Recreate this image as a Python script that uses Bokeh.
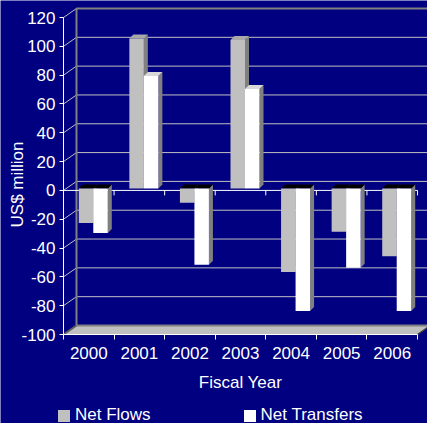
import numpy as np
from bokeh.plotting import figure
from bokeh.models import Range1d, FixedTicker, Legend, LegendItem, Label
from bokeh.embed import file_html
from bokeh.resources import INLINE

# ---- data ----
years = ["2000", "2001", "2002", "2003", "2004", "2005", "2006"]
net_flows = [-24, 104, -10, 103, -58, -30, -47]
net_transfers = [-31, 78, -53, 69, -85, -55, -85]
y_ticks = [-100, -80, -60, -40, -20, 0, 20, 40, 60, 80, 100, 120]
series_names = ["Net Flows", "Net Transfers"]
x_title = "Fiscal Year"
y_title = "US$ million"

# ---- style / geometry (pixels) ----
FONT = "Liberation Sans"
FS = "17px"
BG = "#000080"
W, H = 427, 423
AX_LEFT = 63        # front value axis position
AX_BOTTOM = 334     # front category axis position (from top)
AX_TOP = 17         # top tick position (from top)
N = len(years)
PXX = 354.0 / N
Y_MIN, Y_MAX = y_ticks[0], y_ticks[-1]
PXY = (AX_BOTTOM - AX_TOP) / (Y_MAX - Y_MIN)
X_START = -AX_LEFT / PXX
X_END = X_START + W / PXX
Y_START = Y_MIN - (H - AX_BOTTOM) / PXY
Y_END = Y_MAX + AX_TOP / PXY

DX, DY = 13 / PXX, 9 / PXY          # wall depth
BX0, BY0 = 4.5 / PXX, 2 / PXY       # bar front-plane offset
BW = 14.5 / PXX                     # bar width
BDX, BDY = 4 / PXX, 4 / PXY         # bar depth

p = figure(width=W, height=H, x_range=Range1d(X_START, X_END), y_range=Range1d(Y_START, Y_END),
           output_backend="svg", toolbar_location=None,
           min_border_left=0, min_border_right=0, min_border_top=0, min_border_bottom=0,
           background_fill_color=BG, border_fill_color=BG, outline_line_color=None)
p.grid.visible = False

# back wall gridlines
inner = y_ticks[1:-1]
p.multi_line([[DX, X_END + 1] for _ in inner], [[t + DY, t + DY] for t in inner],
             line_color="#c0c0c0", line_width=1)
# side wall diagonals
p.multi_line([[0, DX] for _ in y_ticks[1:]], [[t, t + DY] for t in y_ticks[1:]],
             line_color="#c0c0c0", line_width=1)
# back wall border
p.line([DX, DX, X_END + 1], [Y_MIN + DY, Y_MAX + DY, Y_MAX + DY], line_color="#808080", line_width=2)
# floor
p.patch([0, N, N + DX, DX], [Y_MIN, Y_MIN, Y_MIN + DY, Y_MIN + DY], fill_color="#c0c0c0", line_color=None)
p.line([DX, N + DX], [Y_MIN + DY, Y_MIN + DY], line_color="#808080", line_width=2)
p.line([0, DX], [Y_MIN, Y_MIN + DY], line_color="#606060", line_width=2)
p.line([N, N + DX], [Y_MIN, Y_MIN + DY], line_color="#404040", line_width=1.5)

# front zero line with category ticks
p.line([0, N], [0, 0], line_color="white", line_width=1)
tl = 5 / PXY
p.segment(x0=list(range(1, N + 1)), y0=[0] * N, x1=list(range(1, N + 1)), y1=[-tl] * N,
          line_color="white", line_width=1)

centers = np.arange(N) + 0.5 + BX0


def draw_series(vals, left_off, front_color, top_color):
    v = np.array(vals, dtype=float)
    left = centers + left_off
    right = left + BW
    lo = np.minimum(v, 0) + BY0
    hi = np.maximum(v, 0) + BY0
    p.patches([[r, r + BDX, r + BDX, r] for r in right],
              [[a, a + BDY, b + BDY, b] for a, b in zip(lo, hi)],
              fill_color="#808080", line_color=None)
    p.patches([[l, r, r + BDX, l + BDX] for l, r in zip(left, right)],
              [[b, b, b + BDY, b + BDY] for b in hi],
              fill_color=[top_color if x > 0 else "#000000" for x in v], line_color=None)
    return p.quad(left=left, right=right, bottom=lo, top=hi, fill_color=front_color, line_color=None)


r1 = draw_series(net_flows, -BW, "#c0c0c0", "#a8a8a8")
r2 = draw_series(net_transfers, 0, "#ffffff", "#d8d8d8")

# axes (pinned at the front edges of the 3D box)
xa = p.xaxis[0]
xa.fixed_location = Y_MIN
xa.ticker = FixedTicker(ticks=[i + 0.5 for i in range(N)], minor_ticks=list(range(N + 1)))
xa.major_label_overrides = {i + 0.5: y for i, y in enumerate(years)}
xa.bounds = (0, N)
xa.axis_line_color = "white"
xa.major_tick_line_color = None
xa.major_tick_out = 5
xa.major_tick_in = 0
xa.minor_tick_line_color = "white"
xa.minor_tick_out = 5
xa.minor_tick_in = 0
xa.major_label_standoff = 7
xa.major_label_text_font = FONT
xa.major_label_text_font_size = FS
xa.major_label_text_color = "white"
xa.axis_label = x_title
xa.axis_label_text_font = FONT
xa.axis_label_text_font_size = FS
xa.axis_label_text_font_style = "normal"
xa.axis_label_text_color = "white"
xa.axis_label_standoff = 11

ya = p.yaxis[0]
ya.fixed_location = 0
ya.ticker = FixedTicker(ticks=y_ticks)
ya.major_label_overrides = {t: str(t) for t in y_ticks}
ya.bounds = (Y_MIN, Y_MAX)
ya.axis_line_color = "white"
ya.major_tick_line_color = "white"
ya.major_tick_out = 4
ya.major_tick_in = 0
ya.minor_tick_line_color = None
ya.major_label_standoff = 4
ya.major_label_text_font = FONT
ya.major_label_text_font_size = FS
ya.major_label_text_color = "white"

# y title
p.add_layout(Label(x=16.5, y=Y_MIN + (AX_BOTTOM - 184) / PXY, x_units="screen", y_units="data",
                   text=y_title, angle=np.pi / 2, text_align="center", text_baseline="middle",
                   text_font=FONT, text_font_size=FS, text_color="white"))

legend = Legend(items=[LegendItem(label=series_names[0], renderers=[r1]),
                       LegendItem(label=series_names[1], renderers=[r2])],
                orientation="horizontal", location=(56, -2), spacing=91, padding=0, margin=0,
                glyph_width=15, glyph_height=15, label_standoff=4,
                label_text_font=FONT, label_text_font_size=FS, label_text_color="white",
                background_fill_alpha=0, border_line_alpha=0)
p.add_layout(legend, "center")

open("out.html", "w").write(file_html(p, INLINE))
